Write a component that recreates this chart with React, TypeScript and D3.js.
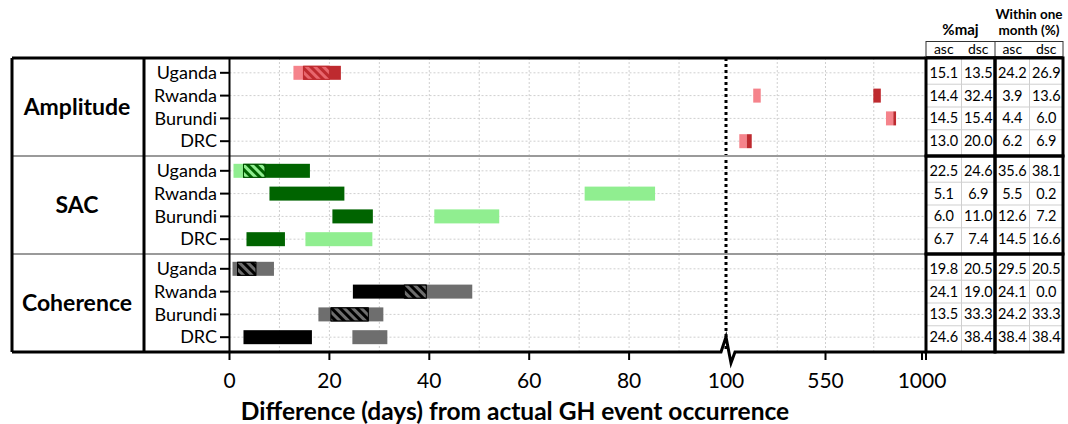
import React from "react";
import * as d3 from "d3";

const groups = ["Amplitude", "SAC", "Coherence"];
const countries = ["Uganda", "Rwanda", "Burundi", "DRC"];

// [start, end] in days, one pair per row (group by group, countries in order)
const lightBars: [number, number][] = [
  [12.8, 20.0], [213, 248], [832, 866], [148, 183],
  [0.8, 7.1], [71.1, 85.2], [41.0, 54.0], [15.2, 28.6],
  [0.6, 8.9], [35.0, 48.6], [17.8, 30.8], [24.6, 31.6],
];
const darkBars: [number, number][] = [
  [14.8, 22.3], [773, 808], [866, 879], [183, 206],
  [2.8, 16.1], [8.0, 23.0], [20.6, 28.7], [3.4, 11.1],
  [1.6, 5.3], [24.7, 39.4], [20.3, 27.8], [2.8, 16.5],
];

// table values
const majAsc = [15.1, 14.4, 14.5, 13.0, 22.5, 5.1, 6.0, 6.7, 19.8, 24.1, 13.5, 24.6];
const majDsc = [13.5, 32.4, 15.4, 20.0, 24.6, 6.9, 11.0, 7.4, 20.5, 19.0, 33.3, 38.4];
const monAsc = [24.2, 3.9, 4.4, 6.2, 35.6, 5.5, 12.6, 14.5, 29.5, 24.1, 24.2, 38.4];
const monDsc = [26.9, 13.6, 6.0, 6.9, 38.1, 0.2, 7.2, 16.6, 20.5, 0.0, 33.3, 38.4];

const xTicks = [0, 20, 40, 60, 80, 100, 550, 1000];
const gridDays = [10, 20, 30, 40, 50, 60, 70, 80, 90, 325, 550, 775];

const palette = [
  { light: "#f5838b", dark: "#be2a2f", stripe: "#e8666d", edge: "#be2a2f" },
  { light: "#90ee90", dark: "#006400", stripe: "#90ee90", edge: "#004d00" },
  { light: "#6e6e6e", dark: "#000000", stripe: "#6e6e6e", edge: "#000000" },
];

const FONT = "Lato, 'Open Sans', sans-serif";

export default function App() {
  const W = 1068, H = 424;
  const top = 58, bottom = 352, left = 12, axisX = 229.5, right = 925;

  const x = d3.scaleLinear().domain([0, 100, 1000]).range([axisX, 729, 922]);
  const yGroup = d3.scaleBand().domain(groups).range([top, bottom]);
  const yRow = d3.scalePoint().domain(countries).range([0, yGroup.bandwidth()]).padding(0.65);
  const rowY = (i: number) => (yGroup(groups[Math.floor(i / 4)]) as number) + (yRow(countries[i % 4]) as number);

  const barH = 14;
  const breakX = x(100) - 3;

  const tableCols = [926, 961.5, 995, 1029.5, 1063];
  const colVals = [majAsc, majDsc, monAsc, monDsc];

  const rows = d3.range(12);
  const rowEdges = rows.map((i) => {
    const g = Math.floor(i / 4), c = i % 4;
    const gTop = yGroup(groups[g]) as number;
    const gBot = gTop + yGroup.bandwidth();
    const y0 = c === 0 ? gTop : (rowY(i - 1) + rowY(i)) / 2;
    const y1 = c === 3 ? gBot : (rowY(i) + rowY(i + 1)) / 2;
    return [y0, y1];
  });

  return (
    <svg width={W} height={H} style={{ position: "absolute", left: 0, top: 0, background: "#fff" }} fontFamily={FONT}>
      <defs>
        {palette.map((p, g) => (
          <pattern key={g} id={"hatch" + g} width={6} height={6} patternUnits="userSpaceOnUse" patternTransform="rotate(-45)">
            <rect width={6} height={6} fill={p.dark} />
            <rect width={3} height={6} fill={p.stripe} />
          </pattern>
        ))}
      </defs>

      {/* grid */}
      {gridDays.map((d) => (
        <line key={"gx" + d} x1={x(d)} x2={x(d)} y1={top} y2={bottom} stroke="#cfcfcf" strokeDasharray="2,2" />
      ))}
      {rows.map((i) => (
        <line key={"gy" + i} x1={axisX} x2={right} y1={rowY(i)} y2={rowY(i)} stroke="#cfcfcf" strokeDasharray="2,2" />
      ))}

      {/* bars */}
      {rows.map((i) => {
        const p = palette[Math.floor(i / 4)];
        const [l0, l1] = lightBars[i];
        const [d0, d1] = darkBars[i];
        const o0 = Math.max(l0, d0), o1 = Math.min(l1, d1);
        const y = rowY(i) - barH / 2;
        return (
          <g key={"b" + i}>
            <rect x={x(l0)} y={y} width={x(l1) - x(l0)} height={barH} fill={p.light} />
            <rect x={x(d0)} y={y} width={x(d1) - x(d0)} height={barH} fill={p.dark} />
            {o1 > o0 && (
              <rect x={x(o0)} y={y + 0.5} width={x(o1) - x(o0)} height={barH - 1} fill={`url(#hatch${Math.floor(i / 4)})`} stroke={p.edge} strokeWidth={1} />
            )}
          </g>
        );
      })}

      {/* dotted break line */}
      <line x1={breakX} x2={breakX} y1={top} y2={bottom} stroke="#000" strokeWidth={3} strokeDasharray="3,3" />

      {/* group separators */}
      {groups.slice(1).map((g) => (
        <line key={"sep" + g} x1={left} x2={right} y1={yGroup(g)} y2={yGroup(g)} stroke="#9a9a9a" strokeWidth={2} />
      ))}

      {/* frame */}
      <line x1={left} x2={right} y1={top} y2={top} stroke="#000" strokeWidth={3} />
      <line x1={left} x2={left} y1={top} y2={bottom} stroke="#000" strokeWidth={3} />
      <line x1={144} x2={144} y1={top} y2={bottom} stroke="#000" strokeWidth={3} />
      <line x1={axisX} x2={axisX} y1={top} y2={bottom + 8} stroke="#000" strokeWidth={2} />
      <path
        d={`M${left},${bottom}H${breakX - 5}L${breakX},${bottom - 15}L${breakX + 5},${bottom + 11}L${breakX + 9},${bottom}H${right}`}
        fill="none" stroke="#000" strokeWidth={3} strokeLinejoin="miter"
      />

      {/* group labels */}
      {groups.map((g) => (
        <text key={g} x={77} y={(yGroup(g) as number) + yGroup.bandwidth() / 2} dy="0.35em" textAnchor="middle" fontSize={23} fontWeight="bold">
          {g}
        </text>
      ))}

      {/* country labels and ticks */}
      {rows.map((i) => (
        <g key={"c" + i}>
          <text x={217} y={rowY(i)} dy="0.35em" textAnchor="end" fontSize={18}>{countries[i % 4]}</text>
          <line x1={220} x2={axisX} y1={rowY(i)} y2={rowY(i)} stroke="#000" strokeWidth={2} />
        </g>
      ))}

      {/* x ticks */}
      {xTicks.map((t) => (
        <g key={"t" + t}>
          {t !== 100 && t !== 0 && <line x1={x(t)} x2={x(t)} y1={bottom} y2={bottom + 8} stroke="#000" strokeWidth={2} />}
          <text x={t === 100 ? breakX : x(t)} y={bottom + 29} dy="0.35em" textAnchor="middle" fontSize={21}>{t}</text>
        </g>
      ))}
      <text x={515} y={411} dy="0.35em" textAnchor="middle" fontSize={24.5} fontWeight="bold">
        Difference (days) from actual GH event occurrence
      </text>

      {/* table header */}
      <text x={(tableCols[0] + tableCols[2]) / 2} y={30} dy="0.35em" textAnchor="middle" fontSize={15} fontWeight="bold">%maj</text>
      <text x={(tableCols[2] + tableCols[4]) / 2} y={14} dy="0.35em" textAnchor="middle" fontSize={13.5} fontWeight="bold">Within one</text>
      <text x={(tableCols[2] + tableCols[4]) / 2} y={30} dy="0.35em" textAnchor="middle" fontSize={13.5} fontWeight="bold">month (%)</text>
      <rect x={tableCols[0]} y={41.5} width={tableCols[4] - tableCols[0]} height={15} fill="none" stroke="#333" strokeWidth={1} />
      <line x1={tableCols[2]} x2={tableCols[2]} y1={41.5} y2={56.5} stroke="#333" />
      {["asc", "dsc", "asc", "dsc"].map((s, k) => (
        <text key={"h" + k} x={(tableCols[k] + tableCols[k + 1]) / 2} y={49} dy="0.35em" textAnchor="middle" fontSize={14}>{s}</text>
      ))}

      {/* table body */}
      {rows.map((i) => (
        <g key={"r" + i}>
          {i % 4 !== 0 && (
            <line x1={tableCols[0]} x2={tableCols[4]} y1={rowEdges[i][0]} y2={rowEdges[i][0]} stroke="#cfcfcf" />
          )}
          {colVals.map((vals, k) => (
            <text key={k} x={(tableCols[k] + tableCols[k + 1]) / 2} y={rowY(i)} dy="0.35em" textAnchor="middle" fontSize={14.5}>
              {vals[i].toFixed(1)}
            </text>
          ))}
        </g>
      ))}
      {[1, 3].map((k) => (
        <line key={"tc" + k} x1={tableCols[k]} x2={tableCols[k]} y1={top} y2={bottom} stroke="#cfcfcf" />
      ))}
      {groups.map((g) => (
        <rect key={"tb" + g} x={tableCols[0]} y={yGroup(g)} width={tableCols[2] - tableCols[0]} height={yGroup.bandwidth()} fill="none" stroke="#000" strokeWidth={3} />
      ))}
      {groups.map((g) => (
        <rect key={"tb2" + g} x={tableCols[2]} y={yGroup(g)} width={tableCols[4] - tableCols[2]} height={yGroup.bandwidth()} fill="none" stroke="#000" strokeWidth={3} />
      ))}
      <line x1={tableCols[0]} x2={tableCols[0]} y1={bottom} y2={bottom + 8} stroke="#000" strokeWidth={2} />
    </svg>
  );
}
